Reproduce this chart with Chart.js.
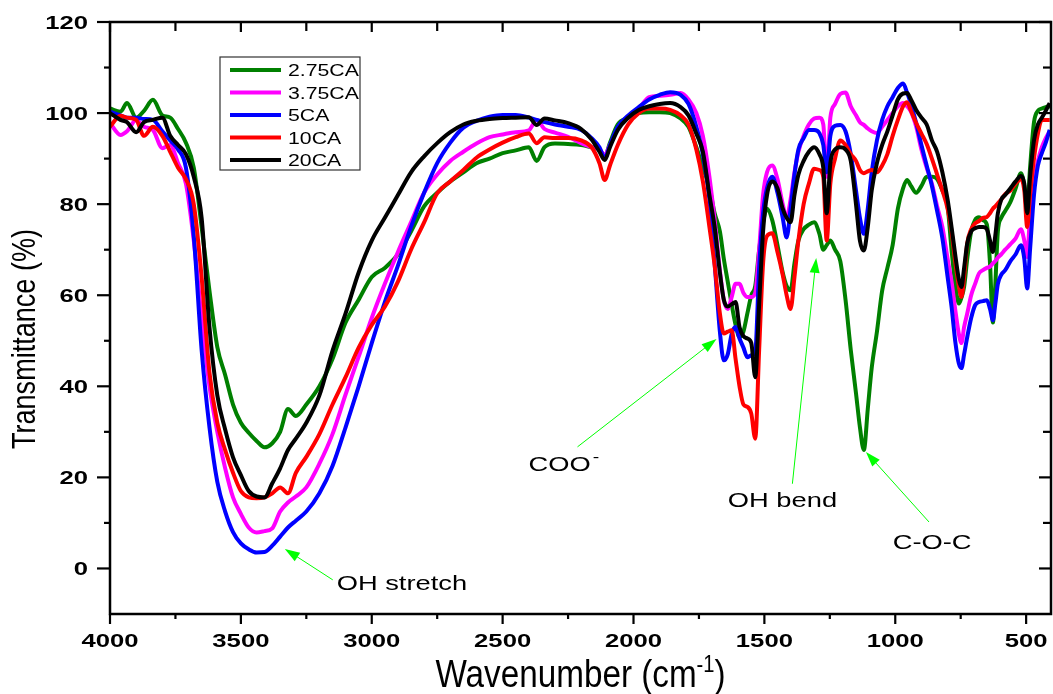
<!DOCTYPE html>
<html>
<head>
<meta charset="utf-8">
<title>FTIR spectra</title>
<script src="https://cdn.jsdelivr.net/npm/chart.js@4.4.1/dist/chart.umd.min.js"></script>
<style>
  html, body { margin: 0; padding: 0; background: #fff; }
  #chart { display: block; }
</style>
</head>
<body>
<canvas id="chart" width="1053" height="694"></canvas>
<script>
/**
 * FTIR transmittance spectra of the CA series, drawn with Chart.js
 */

const WAVENUMBERS = [
  4000, 3960, 3935, 3900, 3870, 3836, 3800, 3770, 3740, 3710,
  3680, 3650, 3620, 3590, 3560, 3530, 3500, 3470, 3440, 3410,
  3380, 3350, 3320, 3290, 3250, 3200, 3150, 3100, 3050, 3000,
  2950, 2900, 2850, 2800, 2750, 2700, 2650, 2600, 2550, 2500,
  2450, 2400, 2370, 2340, 2300, 2250, 2200, 2160, 2130, 2110,
  2090, 2060, 2020, 1980, 1940, 1900, 1860, 1820, 1790, 1760,
  1735, 1710, 1690, 1670, 1655, 1640, 1625, 1610, 1595, 1580,
  1565, 1550, 1535, 1520, 1505, 1490, 1470, 1450, 1430, 1415,
  1400, 1385, 1370, 1350, 1330, 1310, 1290, 1275, 1262, 1248,
  1230, 1210, 1190, 1170, 1150, 1135, 1120, 1105, 1090, 1070,
  1050, 1030, 1010, 990, 970, 955, 940, 920, 900, 880,
  860, 840, 820, 800, 785, 770, 757, 747, 737, 725,
  710, 695, 680, 665, 650, 638, 627, 618, 608, 595,
  580, 560, 540, 520, 507, 496, 485, 470, 455, 440,
  425, 410,
];

const CA_275 = [
  101, 100.3, 102.2, 99, 100.5, 102.9, 99.5, 99, 96.5, 93.5,
  88, 75, 61, 48.6, 42.5, 36, 32, 29.8, 28, 26.6,
  27.5, 30, 35, 33.5, 36, 40, 46, 54, 59, 64,
  66, 69, 74, 79.5, 82.5, 85, 87, 89, 90, 91.2,
  91.8, 92.5, 89.5, 92.5, 93.3, 93.2, 93, 92.5, 92, 90.5,
  93.5, 97.5, 99, 100, 100.2, 100.2, 100, 98.8, 97, 92.5,
  88, 83.7, 78, 74, 68, 63, 58, 53.5, 50.8, 52,
  56, 60, 62, 70, 76, 79, 76.5, 71, 65, 62,
  61.1, 67, 72, 74.5, 75.5, 76, 73.5, 70, 71, 72,
  70, 67.5, 59, 48, 38.5, 31, 26, 35, 44, 52,
  61, 66, 71, 79, 83.5, 85.3, 84, 82.5, 84, 86,
  86, 85.5, 83, 79.5, 70, 62, 58.2, 59.5, 61.8, 68,
  74, 76.5, 77.1, 76.5, 75.5, 67, 54, 62, 74, 77,
  78.5, 80.5, 83.5, 86.8, 84, 78.7, 88, 98, 100.5, 101,
  101.3, 101.5,
];

const CA_375 = [
  97.8, 95.2, 96, 98.5, 97, 96.3, 92.3, 93, 89, 84.5,
  72, 55, 40, 30, 22, 15.6, 12, 9, 7.9, 8.2,
  8.8, 12.5, 14.5, 15.8, 17.8, 23, 29.5, 38.2, 46.5, 55,
  62.5, 69.5, 76, 82.5, 86.5, 89.5, 91.5, 93.3, 94.7, 95.3,
  95.8, 96.2, 98.5, 96.5, 95.7, 94.8, 93.4, 92.5, 92, 90.8,
  93, 96.5, 99.3, 101, 103.5, 103.8, 104, 104.4, 103, 100,
  95, 86, 76.5, 65.5, 59, 57, 59.6, 62.5, 62.5, 60.5,
  59.6, 59.6, 60.5, 70, 82, 87, 88.5, 85.5, 80, 77,
  81, 87, 91.5, 95, 97.5, 98.8, 99, 97.5, 86, 99,
  102, 104.2, 104.5, 101.5, 99.5, 98, 97.4, 96.6, 96, 95.6,
  97, 98.5, 100, 101.5, 102.2, 101.5, 100.3, 97, 92, 88,
  84.5, 79.5, 75, 68, 63, 56.5, 51.5, 49.5, 53, 56,
  60, 62.5, 64.8, 65.5, 66, 66.3, 67, 67.5, 68.3, 69,
  70, 71.2, 72.5, 74.5, 72, 68.4, 78, 85, 89.5, 92.5,
  94.5, 96,
];

const CA_5 = [
  100.3, 99.5, 99, 99, 98.7, 98.5, 96, 94, 92, 88,
  73, 48, 31, 19, 12.5, 8, 5.5, 4.2, 3.5, 3.6,
  5, 7, 9, 10.5, 12.5, 16.5, 22.5, 31, 40, 49.5,
  58.5, 66.5, 75, 82.5, 89, 93.5, 96.8, 98.3, 99.2, 99.6,
  99.6, 99, 98.5, 98, 97.5, 97, 96.3, 94.5, 92.5, 90.1,
  93, 97, 99.5, 101.3, 103, 104, 104.6, 104, 102, 97,
  91, 81, 67, 52, 45.7, 47, 51.5, 53, 50.5, 48.5,
  46.4, 46.8, 47.5, 66, 78, 83.5, 86, 82.5, 77, 72.7,
  79, 86.5, 92, 94.5, 96.3, 96.3, 95.6, 93, 87, 95,
  97.2, 97.4, 96, 91, 83, 77, 73.5, 79, 87, 94,
  98.5, 101.5, 103.5, 105.5, 106.5, 104.5, 102, 97.8, 93, 88.5,
  84, 78.5, 72.5, 64, 57.5, 49.5, 45, 44, 47, 50.8,
  55, 57.8, 58.5, 58.7, 58.9, 57, 54.5, 58, 62.5, 64.5,
  65.5, 67.5, 69, 71, 68, 61.5, 70, 82, 88.5, 91.2,
  93.5, 96.3,
];

const CA_10 = [
  97, 99.4, 99, 98.5, 95, 97, 95, 91.5, 88, 85.5,
  80, 64, 43, 32, 26, 21, 17, 15.6, 15.4, 15.6,
  16.5, 17.8, 16.5, 21, 24.5, 29.5, 36, 42, 48.5, 53.5,
  57.5, 63, 70, 76, 82.4, 85, 87.5, 90.2, 92, 93.5,
  94.7, 95.5, 93.4, 94.7, 94.5, 94.5, 94, 92.5, 89, 85.3,
  88.5, 93, 97.5, 100, 101, 101, 100.7, 99.5, 97.5, 92,
  85, 75, 66.5, 56, 51.6, 52, 52.3, 46, 40, 36,
  35.5, 34, 28.5, 48, 67, 73, 73.6, 69.5, 64.5, 60,
  57, 64, 72, 80, 84.5, 87.8, 87.5, 86, 72, 84.5,
  90, 94, 93, 91, 89.5, 87.5, 86.8, 87.2, 87.5, 87,
  88.5, 91, 95, 98.5, 101.5, 102.4, 100.5, 97.8, 95.5, 93.2,
  90, 86.5, 83, 79, 74, 67, 62, 59.6, 64, 71.4,
  74.5, 75.8, 76.3, 77, 77.2, 78, 79, 79.5, 80.2, 81,
  82.2, 83, 84.5, 85.5, 83, 75, 82, 90, 95.5, 98.5,
  98.5, 98.5,
];

const CA_20 = [
  100, 98.5, 98, 95.8, 98, 98.5, 99, 95, 93, 91,
  86, 77, 53, 38, 30.5, 24.4, 20.5, 17, 15.8, 15.6,
  18.7, 22, 26, 28.5, 32, 38, 47.8, 56, 65, 72,
  77, 82, 87, 90.5, 93.4, 95.8, 97.5, 98.3, 98.7, 98.9,
  99, 99.1, 97.4, 98.8, 98.4, 97.8, 96.5, 94.2, 91.5, 89.7,
  92.5, 96.3, 99, 100.7, 101.5, 102, 102.2, 101.3, 99.5, 95.5,
  91.5, 82, 75, 65, 59, 57.5, 58, 58.5, 53, 51,
  50.5, 49.5, 42, 58, 74, 82, 85, 83.5, 79, 77,
  76, 82, 86.5, 89.5, 91.5, 92.5, 91, 88, 78, 89,
  92, 92.5, 92, 89.5, 80, 72, 69.8, 75, 83, 89,
  93, 96, 99.5, 103, 104.3, 104.4, 103, 100.7, 99, 97.5,
  94, 91.5, 87, 81, 75, 68.5, 63.5, 61.8, 66, 71.4,
  74, 74.7, 75, 75, 74.5, 72, 69.5, 73, 78, 81,
  82, 83.5, 85, 86.2, 84.5, 78, 86, 94, 97.5, 99,
  100.5, 102.2,
];

const SERIES_LABELS = ["2.75CA", "3.75CA", "5CA", "10CA", "20CA"];
const SERIES_VALUES = [CA_275, CA_375, CA_5, CA_10, CA_20];
const SERIES_COLORS = ["#008000", "#ff00ff", "#0000ff", "#ff0000", "#000000"];

const X_TICKS = [4000, 3500, 3000, 2500, 2000, 1500, 1000, 500];
const Y_TICKS = [0, 20, 40, 60, 80, 100, 120];

// peak labels, anchored in data units (wavenumber, transmittance)
const PEAK_NOTES = [
  { text: "OH stretch", sup: "", at: [3134, -4.7], align: "left", tail: [3149, -2.5], tip: [3332, 4.3] },
  { text: "COO", sup: "-", at: [2401, 21.4], align: "left", tail: [2214, 26.7], tip: [1683, 50.4] },
  { text: "OH bend", sup: "", at: [1431, 13.5], align: "center", tail: [1393, 18.6], tip: [1302, 68.2] },
  { text: "C-O-C", sup: "", at: [859, 4.3], align: "center", tail: [871, 10.2], tip: [1112, 25.6] },
];

const FONT = '"Liberation Sans", Arial, sans-serif';

function drawText(ctx, text, px, py, { font, sx = 1, align = "left", baseline = "alphabetic", rotate = 0, color = "#000" }) {
  ctx.save();
  ctx.translate(px, py);
  if (rotate) ctx.rotate(rotate);
  ctx.scale(sx, 1);
  ctx.font = font;
  ctx.textAlign = align;
  ctx.textBaseline = baseline;
  ctx.fillStyle = color;
  ctx.fillText(text, 0, 0);
  ctx.restore();
}

function strokeLine(ctx, x1, y1, x2, y2) {
  ctx.beginPath();
  ctx.moveTo(x1, y1);
  ctx.lineTo(x2, y2);
  ctx.stroke();
}

function midpoints(values) {
  return values.slice(1).map((v, i) => (v + values[i]) / 2);
}

function drawAxes(chart) {
  const { ctx, chartArea: a, scales: { x, y } } = chart;
  ctx.save();
  ctx.strokeStyle = "#000";
  ctx.lineWidth = 2.5;
  ctx.strokeRect(a.left, a.top, a.right - a.left, a.bottom - a.top);

  ctx.lineWidth = 2.2;
  X_TICKS.forEach((v) => {
    const px = x.getPixelForValue(v);
    strokeLine(ctx, px, a.bottom, px, a.bottom + 10);
    strokeLine(ctx, px, a.top, px, a.top + 10);
  });
  midpoints(X_TICKS).forEach((v) => {
    const px = x.getPixelForValue(v);
    strokeLine(ctx, px, a.bottom, px, a.bottom + 5);
    strokeLine(ctx, px, a.top, px, a.top + 9);
  });
  Y_TICKS.forEach((v) => {
    const py = y.getPixelForValue(v);
    strokeLine(ctx, a.left - 13, py, a.left, py);
    strokeLine(ctx, a.right - 12, py, a.right, py);
  });
  midpoints(Y_TICKS).forEach((v) => {
    const py = y.getPixelForValue(v);
    strokeLine(ctx, a.left - 6, py, a.left, py);
    strokeLine(ctx, a.right - 8, py, a.right, py);
  });

  const tickFont = `bold 19px ${FONT}`;
  X_TICKS.forEach((v) => {
    drawText(ctx, String(v), x.getPixelForValue(v), a.bottom + 33, { font: tickFont, sx: 1.35, align: "center" });
  });
  Y_TICKS.forEach((v) => {
    drawText(ctx, String(v), a.left - 22, y.getPixelForValue(v) + 7, { font: tickFont, sx: 1.35, align: "right" });
  });

  // axis titles
  const titleFont = `38px ${FONT}`;
  const supFont = `23px ${FONT}`;
  const sx = 0.875;
  ctx.font = titleFont;
  const w1 = ctx.measureText("Wavenumber (cm").width;
  const w3 = ctx.measureText(")").width;
  ctx.font = supFont;
  const w2 = ctx.measureText("-1").width;
  const total = (w1 + w2 + w3) * sx;
  let cx = (a.left + a.right) / 2 - total / 2;
  const base = a.bottom + 73;
  drawText(ctx, "Wavenumber (cm", cx, base, { font: titleFont, sx });
  cx += w1 * sx;
  drawText(ctx, "-1", cx, base - 15, { font: supFont, sx });
  cx += w2 * sx;
  drawText(ctx, ")", cx, base, { font: titleFont, sx });

  drawText(ctx, "Transmittance (%)", 26, 339, {
    font: `33px ${FONT}`, sx: 0.82, align: "center", baseline: "middle", rotate: -Math.PI / 2,
  });
  ctx.restore();
}

function drawLegend(chart) {
  const { ctx, chartArea: a } = chart;
  const left = a.left + 110;
  const top = a.top + 35;
  ctx.save();
  ctx.fillStyle = "#fff";
  ctx.fillRect(left, top, 140, 113);
  ctx.strokeStyle = "#333";
  ctx.lineWidth = 1.2;
  ctx.strokeRect(left, top, 140, 113);
  chart.data.datasets.forEach((ds, i) => {
    const rowY = top + 13 + i * 22.5;
    ctx.strokeStyle = ds.borderColor;
    ctx.lineWidth = 4;
    strokeLine(ctx, left + 10, rowY, left + 61, rowY);
    drawText(ctx, ds.label, left + 68, rowY + 6, { font: `17px ${FONT}`, sx: 1.25 });
  });
  ctx.restore();
}

function drawNotes(chart) {
  const { ctx, scales: { x, y } } = chart;
  const noteFont = `21px ${FONT}`;
  ctx.save();
  PEAK_NOTES.forEach((note) => {
    const tx = x.getPixelForValue(note.tail[0]);
    const ty = y.getPixelForValue(note.tail[1]);
    const hx = x.getPixelForValue(note.tip[0]);
    const hy = y.getPixelForValue(note.tip[1]);
    const ang = Math.atan2(hy - ty, hx - tx);
    ctx.strokeStyle = "#00ff00";
    ctx.fillStyle = "#00ff00";
    ctx.lineWidth = 1;
    strokeLine(ctx, tx, ty, hx - 10 * Math.cos(ang), hy - 10 * Math.sin(ang));
    ctx.beginPath();
    ctx.moveTo(hx, hy);
    ctx.lineTo(hx - 15 * Math.cos(ang) + 5 * Math.sin(ang), hy - 15 * Math.sin(ang) - 5 * Math.cos(ang));
    ctx.lineTo(hx - 15 * Math.cos(ang) - 5 * Math.sin(ang), hy - 15 * Math.sin(ang) + 5 * Math.cos(ang));
    ctx.closePath();
    ctx.fill();

    const px = x.getPixelForValue(note.at[0]);
    const py = y.getPixelForValue(note.at[1]);
    drawText(ctx, note.text, px, py, { font: noteFont, sx: 1.3, align: note.align });
    if (note.sup) {
      ctx.font = noteFont;
      const w = ctx.measureText(note.text).width * 1.3;
      drawText(ctx, note.sup, px + w + 2, py - 9, { font: `15px ${FONT}`, sx: 1.3 });
    }
  });
  ctx.restore();
}

const spectrumDecor = {
  id: "spectrumDecor",
  afterDraw(chart) {
    drawAxes(chart);
    drawNotes(chart);
    drawLegend(chart);
  },
};

function buildDatasets() {
  return SERIES_LABELS.map((label, i) => ({
    label,
    data: WAVENUMBERS.map((wn, j) => ({ x: wn, y: SERIES_VALUES[i][j] })),
    borderColor: SERIES_COLORS[i],
    backgroundColor: SERIES_COLORS[i],
    borderWidth: 4,
    pointRadius: 0,
    cubicInterpolationMode: "monotone",
    order: SERIES_LABELS.length - i,
  }));
}

new Chart(document.getElementById("chart"), {
  type: "line",
  data: { datasets: buildDatasets() },
  options: {
    responsive: false,
    animation: false,
    devicePixelRatio: 1,
    layout: { padding: { top: 22, right: 2, left: 0, bottom: 0 } },
    plugins: { legend: { display: false }, tooltip: { enabled: false } },
    scales: {
      x: {
        type: "linear",
        reverse: true,
        min: 405,
        max: 4000,
        grid: { display: false },
        border: { display: false },
        ticks: { display: false },
        afterFit: (scale) => { scale.height = 80; },
      },
      y: {
        min: -10,
        max: 120,
        grid: { display: false },
        border: { display: false },
        ticks: { display: false },
        afterFit: (scale) => { scale.width = 110; },
      },
    },
  },
  plugins: [spectrumDecor],
});
</script>
</body>
</html>
